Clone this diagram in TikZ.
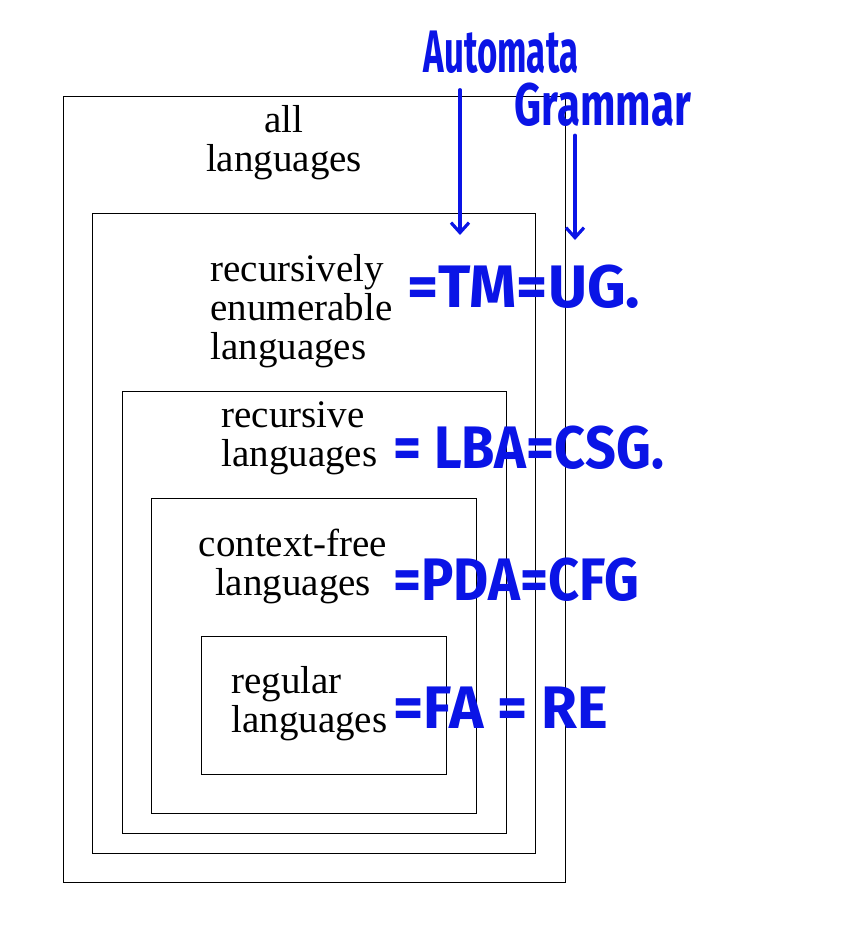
\documentclass[tikz,border=0pt]{standalone}
\usepackage{fontspec}
\setmainfont{Liberation Serif}
\newfontfamily\handfont{Fira Sans}
\usetikzlibrary{arrows.meta,positioning}
\definecolor{ink}{RGB}{10,20,230}

\begin{document}
\begin{tikzpicture}[x=0.5pt, y=-0.5pt, >={Straight Barb[length=5pt,width=9pt]},
  every node/.style={font=\fontsize{19.5}{19.5}\selectfont, inner sep=0pt},
  setbox/.style={draw=black, line width=0.5pt},
  langlabel/.style={align=left, anchor=west},
  hand/.style={text=ink, font=\handfont\bfseries\fontsize{30}{30}\selectfont, transform shape},
  pen/.style={draw=ink, line width=1.6pt, line cap=round, ->}]

  \useasboundingbox (0,0) rectangle (844,944);

  % nested language classes
  \foreach \xa/\ya/\xb/\yb in {63/96/565/882, 92/213/535/853, 122/391/506/833,
                               151/498/476/813, 201/636/446/774}
    \draw[setbox] (\xa,\ya) rectangle (\xb,\yb);

  \node[align=center] (all) at (284,143) {all\\languages};
  \node[langlabel] (re) at (210,311) {recursively\\enumerable\\languages};
  \node[langlabel] (rec) at (221,438) {recursive\\languages};
  \node[align=center] (cf) at (293,566) {context-free\\languages};
  \node[langlabel] (reg) at (231,704) {regular\\languages};

  % handwritten notes
  \node[hand, xscale=0.58] (auto) at (501,52) {Automata};
  \node[hand, xscale=0.7] (gram) at (603,105) {Grammar};
  \coordinate (autotip) at (460,235);
  \coordinate (gramtip) at (575,240);
  \draw[pen] (autotip |- auto.south) ++(0,16) -- (autotip);
  \draw[pen] (gramtip |- gram.south) ++(0,8) -- (gramtip);

  \node[hand, anchor=west] (tm) at (407,287) {=TM=UG.};
  \node[hand, anchor=west, xscale=0.9] (lba) at (393,448) {= LBA=CSG.};
  \node[hand, anchor=west, xscale=0.9] (pda) at (393,580) {=PDA=CFG};
  \node[hand, anchor=west, xscale=0.97] (fa) at (393,708) {=FA = RE};
\end{tikzpicture}
\end{document}
